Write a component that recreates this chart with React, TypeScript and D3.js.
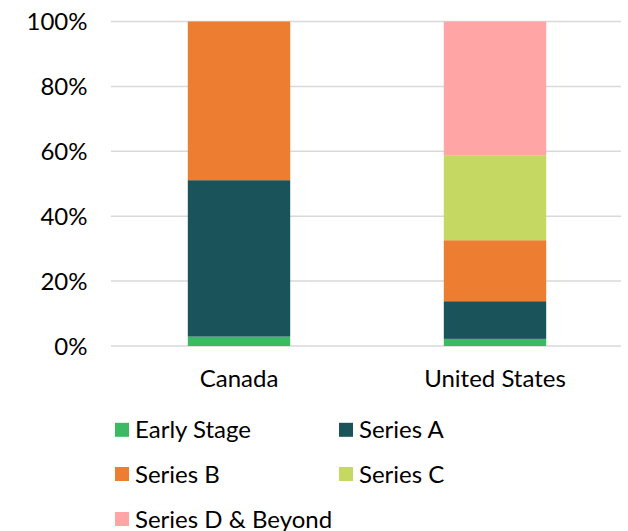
import React from "react";
import * as d3 from "d3";

const categories = ["Canada", "United States"];
const seriesNames = ["Early Stage", "Series A", "Series B", "Series C", "Series D & Beyond"];
const earlyStage = [2.9, 2.2];
const seriesA = [48.2, 11.6];
const seriesB = [48.9, 18.8];
const seriesC = [0, 26.2];
const seriesD = [0, 41.2];
const colors = ["#3CB963", "#1B535B", "#ED7D31", "#C4D862", "#FFA5A5"];
const yTicks = [0, 20, 40, 60, 80, 100];

export default function App() {
  const W = 628, H = 531;
  const values = [earlyStage, seriesA, seriesB, seriesC, seriesD];
  const rows = categories.map((c, i) => {
    const r: any = { cat: c };
    seriesNames.forEach((s, k) => (r[s] = values[k][i]));
    return r;
  });
  const stack = d3.stack<any>().keys(seriesNames)(rows);
  const x = d3.scaleBand<string>().domain(categories).range([111, 623]).padding(0);
  const y = d3.scaleLinear().domain([0, 100]).range([346, 21.5]);
  const bw = x.bandwidth() * 0.4;
  const font = "Lato, 'Open Sans', sans-serif";
  const legendPos = [
    [115, 438.3], [339, 438.3], [115, 482.5], [339, 482.5], [115, 527.5],
  ];
  return (
    <svg width={W} height={H} style={{ position: "absolute", left: 0, top: 0 }} fontFamily={font}>
      {yTicks.map((t) => (
        <g key={t}>
          <line x1={111} x2={621} y1={y(t)} y2={y(t)} stroke="#D9D9D9" strokeWidth={1.5} />
          <text x={87.5} y={y(t) + 8.5} textAnchor="end" fontSize={24} fill="#000">
            {t}%
          </text>
        </g>
      ))}
      {stack.map((layer, k) => (
        <g key={k} fill={colors[k]}>
          {layer.map((d, i) =>
            d[1] - d[0] > 0 ? (
              <rect
                key={i}
                x={(x(categories[i]) as number) + (x.bandwidth() - bw) / 2}
                width={bw}
                y={y(d[1])}
                height={y(d[0]) - y(d[1])}
              />
            ) : null
          )}
        </g>
      ))}
      {categories.map((c) => (
        <text key={c} x={(x(c) as number) + x.bandwidth() / 2} y={386.7} textAnchor="middle" fontSize={24} fill="#000">
          {c}
        </text>
      ))}
      {seriesNames.map((s, k) => (
        <g key={s}>
          <rect x={legendPos[k][0]} y={legendPos[k][1] - 15.5} width={14} height={14} fill={colors[k]} />
          <text x={legendPos[k][0] + 20} y={legendPos[k][1]} fontSize={24} fill="#000">
            {s}
          </text>
        </g>
      ))}
    </svg>
  );
}
